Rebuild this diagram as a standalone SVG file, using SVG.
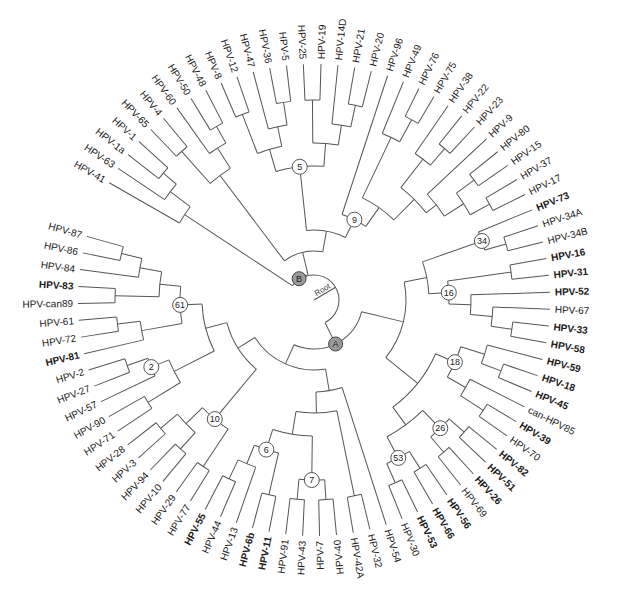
<svg xmlns="http://www.w3.org/2000/svg" width="627" height="593" viewBox="0 0 627 593">
<style>
.c line,.c circle{stroke:#555;stroke-width:1;fill:none}
.t{font-family:"Liberation Sans",Arial,sans-serif;font-size:10px;fill:#1a1a1a;dominant-baseline:central}
.e{text-anchor:end}
.b{font-weight:bold}
.nc circle{fill:#fff;stroke:#555;stroke-width:1}
.nc text{font-family:"Liberation Sans",Arial,sans-serif;font-size:9px;text-anchor:middle;dominant-baseline:central;fill:#222}
.ab circle{fill:#9a9a9a;stroke:#444}
.rt{font-family:"Liberation Sans",Arial,sans-serif;font-size:8px;fill:#444}
</style>
<rect width="627" height="593" fill="#fff"/>
<g id="connectors" class="c" transform="translate(314,300)">
<line x1="0" x2="25" transform="rotate(-30.55)"/>
<circle r="25" pathLength="360" stroke-dasharray="188.89 360" transform="rotate(-124.99)"/>
<line x1="25" x2="26" transform="rotate(235.01)"/>
<line x1="25" x2="49" transform="rotate(63.90)"/>
<circle r="26" pathLength="360" stroke-dasharray="43.21 360" transform="rotate(213.40)"/>
<line x1="26" x2="155" transform="rotate(213.40)"/>
<line x1="26" x2="49" transform="rotate(256.61)"/>
<circle r="49" pathLength="360" stroke-dasharray="47.32 360" transform="rotate(232.95)"/>
<line x1="49" x2="156" transform="rotate(232.95)"/>
<line x1="49" x2="70" transform="rotate(280.27)"/>
<circle r="155" pathLength="360" stroke-dasharray="7.21 360" transform="rotate(209.80)"/>
<line x1="155" x2="236" transform="rotate(209.80)"/>
<line x1="155" x2="180" transform="rotate(217.01)"/>
<circle r="180" pathLength="360" stroke-dasharray="6.17 360" transform="rotate(213.92)"/>
<line x1="180" x2="236" transform="rotate(213.92)"/>
<line x1="180" x2="197" transform="rotate(220.09)"/>
<circle r="197" pathLength="360" stroke-dasharray="4.12 360" transform="rotate(218.03)"/>
<line x1="197" x2="236" transform="rotate(218.03)"/>
<line x1="197" x2="236" transform="rotate(222.15)"/>
<circle r="156" pathLength="360" stroke-dasharray="9.26 360" transform="rotate(228.32)"/>
<line x1="156" x2="199" transform="rotate(228.32)"/>
<circle r="199" pathLength="360" stroke-dasharray="4.12 360" transform="rotate(226.26)"/>
<line x1="199" x2="236" transform="rotate(226.26)"/>
<line x1="199" x2="236" transform="rotate(230.38)"/>
<line x1="156" x2="180" transform="rotate(237.58)"/>
<circle r="180" pathLength="360" stroke-dasharray="6.18 360" transform="rotate(234.49)"/>
<line x1="180" x2="236" transform="rotate(234.49)"/>
<line x1="180" x2="199" transform="rotate(240.67)"/>
<circle r="199" pathLength="360" stroke-dasharray="4.11 360" transform="rotate(238.61)"/>
<line x1="199" x2="236" transform="rotate(238.61)"/>
<line x1="199" x2="236" transform="rotate(242.72)"/>
<circle r="70" pathLength="360" stroke-dasharray="32.78 360" transform="rotate(263.88)"/>
<line x1="70" x2="134" transform="rotate(263.88)"/>
<line x1="70" x2="90" transform="rotate(296.66)"/>
<circle r="134" pathLength="360" stroke-dasharray="20.71 360" transform="rotate(253.53)"/>
<line x1="134" x2="157" transform="rotate(253.53)"/>
<line x1="134" x2="157" transform="rotate(274.24)"/>
<circle r="157" pathLength="360" stroke-dasharray="9.26 360" transform="rotate(248.90)"/>
<line x1="157" x2="199" transform="rotate(248.90)"/>
<circle r="199" pathLength="360" stroke-dasharray="4.11 360" transform="rotate(246.84)"/>
<line x1="199" x2="236" transform="rotate(246.84)"/>
<line x1="199" x2="236" transform="rotate(250.95)"/>
<line x1="157" x2="177" transform="rotate(258.16)"/>
<circle r="177" pathLength="360" stroke-dasharray="6.17 360" transform="rotate(255.07)"/>
<line x1="177" x2="236" transform="rotate(255.07)"/>
<line x1="177" x2="200" transform="rotate(261.24)"/>
<circle r="200" pathLength="360" stroke-dasharray="4.12 360" transform="rotate(259.18)"/>
<line x1="200" x2="236" transform="rotate(259.18)"/>
<line x1="200" x2="236" transform="rotate(263.30)"/>
<circle r="157" pathLength="360" stroke-dasharray="9.35 360" transform="rotate(269.56)"/>
<line x1="157" x2="200" transform="rotate(269.56)"/>
<circle r="200" pathLength="360" stroke-dasharray="4.29 360" transform="rotate(267.41)"/>
<line x1="200" x2="236" transform="rotate(267.41)"/>
<line x1="200" x2="236" transform="rotate(271.70)"/>
<line x1="157" x2="177" transform="rotate(278.91)"/>
<circle r="177" pathLength="360" stroke-dasharray="6.17 360" transform="rotate(275.82)"/>
<line x1="177" x2="236" transform="rotate(275.82)"/>
<line x1="177" x2="199" transform="rotate(281.99)"/>
<circle r="199" pathLength="360" stroke-dasharray="4.12 360" transform="rotate(279.93)"/>
<line x1="199" x2="236" transform="rotate(279.93)"/>
<line x1="199" x2="236" transform="rotate(284.05)"/>
<circle r="90" pathLength="360" stroke-dasharray="16.99 360" transform="rotate(288.16)"/>
<line x1="90" x2="236" transform="rotate(288.16)"/>
<line x1="90" x2="113" transform="rotate(305.15)"/>
<circle r="113" pathLength="360" stroke-dasharray="19.55 360" transform="rotate(295.37)"/>
<line x1="113" x2="180" transform="rotate(295.37)"/>
<circle r="180" pathLength="360" stroke-dasharray="6.17 360" transform="rotate(292.28)"/>
<line x1="180" x2="236" transform="rotate(292.28)"/>
<line x1="180" x2="205" transform="rotate(298.45)"/>
<circle r="205" pathLength="360" stroke-dasharray="4.12 360" transform="rotate(296.39)"/>
<line x1="205" x2="236" transform="rotate(296.39)"/>
<line x1="205" x2="236" transform="rotate(300.51)"/>
<line x1="113" x2="142" transform="rotate(314.92)"/>
<circle r="142" pathLength="360" stroke-dasharray="14.41 360" transform="rotate(307.71)"/>
<line x1="142" x2="178" transform="rotate(307.71)"/>
<circle r="178" pathLength="360" stroke-dasharray="6.18 360" transform="rotate(304.62)"/>
<line x1="178" x2="236" transform="rotate(304.62)"/>
<line x1="178" x2="200" transform="rotate(310.80)"/>
<circle r="200" pathLength="360" stroke-dasharray="4.11 360" transform="rotate(308.74)"/>
<line x1="200" x2="236" transform="rotate(308.74)"/>
<line x1="200" x2="236" transform="rotate(312.85)"/>
<line x1="142" x2="155" transform="rotate(322.12)"/>
<circle r="155" pathLength="360" stroke-dasharray="10.29 360" transform="rotate(316.97)"/>
<line x1="155" x2="236" transform="rotate(316.97)"/>
<line x1="155" x2="178" transform="rotate(327.26)"/>
<circle r="178" pathLength="360" stroke-dasharray="8.23 360" transform="rotate(323.14)"/>
<line x1="178" x2="200" transform="rotate(323.14)"/>
<circle r="200" pathLength="360" stroke-dasharray="4.12 360" transform="rotate(321.08)"/>
<line x1="200" x2="236" transform="rotate(321.08)"/>
<line x1="200" x2="236" transform="rotate(325.20)"/>
<line x1="178" x2="200" transform="rotate(331.37)"/>
<circle r="200" pathLength="360" stroke-dasharray="4.12 360" transform="rotate(329.31)"/>
<line x1="200" x2="236" transform="rotate(329.31)"/>
<line x1="200" x2="236" transform="rotate(333.43)"/>
<circle r="49" pathLength="360" stroke-dasharray="100.31 360" transform="rotate(13.75)"/>
<line x1="49" x2="92" transform="rotate(13.75)"/>
<line x1="49" x2="70" transform="rotate(114.06)"/>
<circle r="92" pathLength="360" stroke-dasharray="50.02 360" transform="rotate(-11.26)"/>
<line x1="92" x2="115" transform="rotate(-11.26)"/>
<line x1="92" x2="133" transform="rotate(38.76)"/>
<circle r="115" pathLength="360" stroke-dasharray="16.21 360" transform="rotate(-19.37)"/>
<line x1="115" x2="178" transform="rotate(-19.37)"/>
<line x1="115" x2="135" transform="rotate(-3.16)"/>
<circle r="178" pathLength="360" stroke-dasharray="6.18 360" transform="rotate(-22.46)"/>
<line x1="178" x2="236" transform="rotate(-22.46)"/>
<line x1="178" x2="200" transform="rotate(-16.28)"/>
<circle r="200" pathLength="360" stroke-dasharray="4.11 360" transform="rotate(-18.34)"/>
<line x1="200" x2="236" transform="rotate(-18.34)"/>
<line x1="200" x2="236" transform="rotate(-14.23)"/>
<circle r="135" pathLength="360" stroke-dasharray="9.77 360" transform="rotate(-8.05)"/>
<line x1="135" x2="199" transform="rotate(-8.05)"/>
<circle r="199" pathLength="360" stroke-dasharray="4.11 360" transform="rotate(-10.11)"/>
<line x1="199" x2="236" transform="rotate(-10.11)"/>
<line x1="199" x2="236" transform="rotate(-6.00)"/>
<line x1="135" x2="157" transform="rotate(1.72)"/>
<circle r="157" pathLength="360" stroke-dasharray="7.20 360" transform="rotate(-1.88)"/>
<line x1="157" x2="236" transform="rotate(-1.88)"/>
<line x1="157" x2="179" transform="rotate(5.32)"/>
<circle r="179" pathLength="360" stroke-dasharray="6.18 360" transform="rotate(2.23)"/>
<line x1="179" x2="236" transform="rotate(2.23)"/>
<line x1="179" x2="200" transform="rotate(8.41)"/>
<circle r="200" pathLength="360" stroke-dasharray="4.11 360" transform="rotate(6.35)"/>
<line x1="200" x2="236" transform="rotate(6.35)"/>
<line x1="200" x2="236" transform="rotate(10.46)"/>
<circle r="133" pathLength="360" stroke-dasharray="29.84 360" transform="rotate(23.84)"/>
<line x1="133" x2="154" transform="rotate(23.84)"/>
<line x1="133" x2="155" transform="rotate(53.68)"/>
<circle r="154" pathLength="360" stroke-dasharray="12.34 360" transform="rotate(17.67)"/>
<line x1="154" x2="179" transform="rotate(17.67)"/>
<circle r="179" pathLength="360" stroke-dasharray="6.17 360" transform="rotate(14.58)"/>
<line x1="179" x2="236" transform="rotate(14.58)"/>
<line x1="179" x2="200" transform="rotate(20.75)"/>
<circle r="200" pathLength="360" stroke-dasharray="4.12 360" transform="rotate(18.69)"/>
<line x1="200" x2="236" transform="rotate(18.69)"/>
<line x1="200" x2="236" transform="rotate(22.81)"/>
<line x1="154" x2="175" transform="rotate(30.01)"/>
<circle r="175" pathLength="360" stroke-dasharray="6.18 360" transform="rotate(26.92)"/>
<line x1="175" x2="236" transform="rotate(26.92)"/>
<line x1="175" x2="202" transform="rotate(33.10)"/>
<circle r="202" pathLength="360" stroke-dasharray="4.11 360" transform="rotate(31.04)"/>
<line x1="202" x2="236" transform="rotate(31.04)"/>
<line x1="202" x2="236" transform="rotate(35.15)"/>
<circle r="155" pathLength="360" stroke-dasharray="16.46 360" transform="rotate(45.45)"/>
<line x1="155" x2="180" transform="rotate(45.45)"/>
<line x1="155" x2="179" transform="rotate(61.91)"/>
<circle r="180" pathLength="360" stroke-dasharray="8.23 360" transform="rotate(41.33)"/>
<line x1="180" x2="200" transform="rotate(41.33)"/>
<circle r="200" pathLength="360" stroke-dasharray="4.11 360" transform="rotate(39.27)"/>
<line x1="200" x2="236" transform="rotate(39.27)"/>
<line x1="200" x2="236" transform="rotate(43.38)"/>
<line x1="180" x2="200" transform="rotate(49.56)"/>
<circle r="200" pathLength="360" stroke-dasharray="4.11 360" transform="rotate(47.50)"/>
<line x1="200" x2="236" transform="rotate(47.50)"/>
<line x1="200" x2="236" transform="rotate(51.61)"/>
<circle r="179" pathLength="360" stroke-dasharray="8.23 360" transform="rotate(57.79)"/>
<line x1="179" x2="199" transform="rotate(57.79)"/>
<circle r="199" pathLength="360" stroke-dasharray="4.11 360" transform="rotate(55.73)"/>
<line x1="199" x2="236" transform="rotate(55.73)"/>
<line x1="199" x2="236" transform="rotate(59.84)"/>
<line x1="179" x2="200" transform="rotate(66.02)"/>
<circle r="200" pathLength="360" stroke-dasharray="4.11 360" transform="rotate(63.96)"/>
<line x1="200" x2="236" transform="rotate(63.96)"/>
<line x1="200" x2="236" transform="rotate(68.07)"/>
<circle r="70" pathLength="360" stroke-dasharray="67.13 360" transform="rotate(80.49)"/>
<line x1="70" x2="92" transform="rotate(80.49)"/>
<line x1="70" x2="90" transform="rotate(147.62)"/>
<circle r="92" pathLength="360" stroke-dasharray="16.59 360" transform="rotate(72.19)"/>
<line x1="92" x2="236" transform="rotate(72.19)"/>
<line x1="92" x2="113" transform="rotate(88.78)"/>
<circle r="113" pathLength="360" stroke-dasharray="20.84 360" transform="rotate(78.36)"/>
<line x1="113" x2="200" transform="rotate(78.36)"/>
<circle r="200" pathLength="360" stroke-dasharray="4.12 360" transform="rotate(76.30)"/>
<line x1="200" x2="236" transform="rotate(76.30)"/>
<line x1="200" x2="236" transform="rotate(80.42)"/>
<line x1="113" x2="136" transform="rotate(99.20)"/>
<circle r="136" pathLength="360" stroke-dasharray="16.97 360" transform="rotate(90.71)"/>
<line x1="136" x2="180" transform="rotate(90.71)"/>
<circle r="180" pathLength="360" stroke-dasharray="8.23 360" transform="rotate(86.59)"/>
<line x1="180" x2="200" transform="rotate(86.59)"/>
<circle r="200" pathLength="360" stroke-dasharray="4.12 360" transform="rotate(84.53)"/>
<line x1="200" x2="236" transform="rotate(84.53)"/>
<line x1="200" x2="236" transform="rotate(88.65)"/>
<line x1="180" x2="200" transform="rotate(94.82)"/>
<circle r="200" pathLength="360" stroke-dasharray="4.12 360" transform="rotate(92.76)"/>
<line x1="200" x2="236" transform="rotate(92.76)"/>
<line x1="200" x2="236" transform="rotate(96.88)"/>
<line x1="136" x2="157" transform="rotate(107.68)"/>
<circle r="157" pathLength="360" stroke-dasharray="9.26 360" transform="rotate(103.05)"/>
<line x1="157" x2="200" transform="rotate(103.05)"/>
<circle r="200" pathLength="360" stroke-dasharray="4.12 360" transform="rotate(100.99)"/>
<line x1="200" x2="236" transform="rotate(100.99)"/>
<line x1="200" x2="236" transform="rotate(105.11)"/>
<line x1="157" x2="177" transform="rotate(112.31)"/>
<circle r="177" pathLength="360" stroke-dasharray="6.18 360" transform="rotate(109.22)"/>
<line x1="177" x2="236" transform="rotate(109.22)"/>
<line x1="177" x2="198" transform="rotate(115.40)"/>
<circle r="198" pathLength="360" stroke-dasharray="4.11 360" transform="rotate(113.34)"/>
<line x1="198" x2="236" transform="rotate(113.34)"/>
<line x1="198" x2="236" transform="rotate(117.45)"/>
<circle r="90" pathLength="360" stroke-dasharray="35.62 360" transform="rotate(129.81)"/>
<line x1="90" x2="155" transform="rotate(129.81)"/>
<line x1="90" x2="112" transform="rotate(165.43)"/>
<circle r="155" pathLength="360" stroke-dasharray="12.35 360" transform="rotate(123.63)"/>
<line x1="155" x2="200" transform="rotate(123.63)"/>
<circle r="200" pathLength="360" stroke-dasharray="4.11 360" transform="rotate(121.57)"/>
<line x1="200" x2="236" transform="rotate(121.57)"/>
<line x1="200" x2="236" transform="rotate(125.68)"/>
<line x1="155" x2="178" transform="rotate(135.98)"/>
<circle r="178" pathLength="360" stroke-dasharray="8.23 360" transform="rotate(131.86)"/>
<line x1="178" x2="200" transform="rotate(131.86)"/>
<circle r="200" pathLength="360" stroke-dasharray="4.11 360" transform="rotate(129.80)"/>
<line x1="200" x2="236" transform="rotate(129.80)"/>
<line x1="200" x2="236" transform="rotate(133.91)"/>
<line x1="178" x2="200" transform="rotate(140.09)"/>
<circle r="200" pathLength="360" stroke-dasharray="4.11 360" transform="rotate(138.03)"/>
<line x1="200" x2="236" transform="rotate(138.03)"/>
<line x1="200" x2="236" transform="rotate(142.14)"/>
<circle r="112" pathLength="360" stroke-dasharray="24.95 360" transform="rotate(152.95)"/>
<line x1="112" x2="157" transform="rotate(152.95)"/>
<line x1="112" x2="134" transform="rotate(177.90)"/>
<circle r="157" pathLength="360" stroke-dasharray="9.26 360" transform="rotate(148.32)"/>
<line x1="157" x2="195" transform="rotate(148.32)"/>
<circle r="195" pathLength="360" stroke-dasharray="4.11 360" transform="rotate(146.26)"/>
<line x1="195" x2="236" transform="rotate(146.26)"/>
<line x1="195" x2="236" transform="rotate(150.37)"/>
<line x1="157" x2="176" transform="rotate(157.58)"/>
<circle r="176" pathLength="360" stroke-dasharray="6.17 360" transform="rotate(154.49)"/>
<line x1="176" x2="236" transform="rotate(154.49)"/>
<line x1="176" x2="198" transform="rotate(160.66)"/>
<circle r="198" pathLength="360" stroke-dasharray="4.12 360" transform="rotate(158.60)"/>
<line x1="198" x2="236" transform="rotate(158.60)"/>
<line x1="198" x2="236" transform="rotate(162.72)"/>
<circle r="134" pathLength="360" stroke-dasharray="15.95 360" transform="rotate(169.92)"/>
<line x1="134" x2="175" transform="rotate(169.92)"/>
<circle r="175" pathLength="360" stroke-dasharray="6.18 360" transform="rotate(166.83)"/>
<line x1="175" x2="236" transform="rotate(166.83)"/>
<line x1="175" x2="198" transform="rotate(173.01)"/>
<circle r="198" pathLength="360" stroke-dasharray="4.11 360" transform="rotate(170.95)"/>
<line x1="198" x2="236" transform="rotate(170.95)"/>
<line x1="198" x2="236" transform="rotate(175.06)"/>
<line x1="134" x2="155" transform="rotate(185.87)"/>
<circle r="155" pathLength="360" stroke-dasharray="9.26 360" transform="rotate(181.24)"/>
<line x1="155" x2="199" transform="rotate(181.24)"/>
<circle r="199" pathLength="360" stroke-dasharray="4.11 360" transform="rotate(179.18)"/>
<line x1="199" x2="236" transform="rotate(179.18)"/>
<line x1="199" x2="236" transform="rotate(183.29)"/>
<line x1="155" x2="177" transform="rotate(190.50)"/>
<circle r="177" pathLength="360" stroke-dasharray="6.17 360" transform="rotate(187.41)"/>
<line x1="177" x2="236" transform="rotate(187.41)"/>
<line x1="177" x2="198" transform="rotate(193.58)"/>
<circle r="198" pathLength="360" stroke-dasharray="4.12 360" transform="rotate(191.52)"/>
<line x1="198" x2="236" transform="rotate(191.52)"/>
<line x1="198" x2="236" transform="rotate(195.64)"/>
</g>
<g id="leaves" transform="translate(314,300)">
<g id="leaf-HPV-19"><text class="t" transform="rotate(-88.30) translate(241,0)">HPV-19</text></g>
<g id="leaf-HPV-14D"><text class="t" transform="rotate(-84.18) translate(241,0)">HPV-14D</text></g>
<g id="leaf-HPV-21"><text class="t" transform="rotate(-80.07) translate(241,0)">HPV-21</text></g>
<g id="leaf-HPV-20"><text class="t" transform="rotate(-75.95) translate(241,0)">HPV-20</text></g>
<g id="leaf-HPV-96"><text class="t" transform="rotate(-71.84) translate(241,0)">HPV-96</text></g>
<g id="leaf-HPV-49"><text class="t" transform="rotate(-67.72) translate(241,0)">HPV-49</text></g>
<g id="leaf-HPV-76"><text class="t" transform="rotate(-63.61) translate(241,0)">HPV-76</text></g>
<g id="leaf-HPV-75"><text class="t" transform="rotate(-59.49) translate(241,0)">HPV-75</text></g>
<g id="leaf-HPV-38"><text class="t" transform="rotate(-55.38) translate(241,0)">HPV-38</text></g>
<g id="leaf-HPV-22"><text class="t" transform="rotate(-51.26) translate(241,0)">HPV-22</text></g>
<g id="leaf-HPV-23"><text class="t" transform="rotate(-47.15) translate(241,0)">HPV-23</text></g>
<g id="leaf-HPV-9"><text class="t" transform="rotate(-43.03) translate(241,0)">HPV-9</text></g>
<g id="leaf-HPV-80"><text class="t" transform="rotate(-38.92) translate(241,0)">HPV-80</text></g>
<g id="leaf-HPV-15"><text class="t" transform="rotate(-34.80) translate(241,0)">HPV-15</text></g>
<g id="leaf-HPV-37"><text class="t" transform="rotate(-30.69) translate(241,0)">HPV-37</text></g>
<g id="leaf-HPV-17"><text class="t" transform="rotate(-26.57) translate(241,0)">HPV-17</text></g>
<g id="leaf-HPV-73"><text class="t b" transform="rotate(-22.46) translate(241,0)">HPV-73</text></g>
<g id="leaf-HPV-34A"><text class="t" transform="rotate(-18.34) translate(241,0)">HPV-34A</text></g>
<g id="leaf-HPV-34B"><text class="t" transform="rotate(-14.23) translate(241,0)">HPV-34B</text></g>
<g id="leaf-HPV-16"><text class="t b" transform="rotate(-10.11) translate(241,0)">HPV-16</text></g>
<g id="leaf-HPV-31"><text class="t b" transform="rotate(-6.00) translate(241,0)">HPV-31</text></g>
<g id="leaf-HPV-52"><text class="t b" transform="rotate(-1.88) translate(241,0)">HPV-52</text></g>
<g id="leaf-HPV-67"><text class="t" transform="rotate(2.23) translate(241,0)">HPV-67</text></g>
<g id="leaf-HPV-33"><text class="t b" transform="rotate(6.35) translate(241,0)">HPV-33</text></g>
<g id="leaf-HPV-58"><text class="t b" transform="rotate(10.46) translate(241,0)">HPV-58</text></g>
<g id="leaf-HPV-59"><text class="t b" transform="rotate(14.58) translate(241,0)">HPV-59</text></g>
<g id="leaf-HPV-18"><text class="t b" transform="rotate(18.69) translate(241,0)">HPV-18</text></g>
<g id="leaf-HPV-45"><text class="t b" transform="rotate(22.81) translate(241,0)">HPV-45</text></g>
<g id="leaf-can-HPV85"><text class="t" transform="rotate(26.92) translate(241,0)">can-HPV85</text></g>
<g id="leaf-HPV-39"><text class="t b" transform="rotate(31.04) translate(241,0)">HPV-39</text></g>
<g id="leaf-HPV-70"><text class="t" transform="rotate(35.15) translate(241,0)">HPV-70</text></g>
<g id="leaf-HPV-82"><text class="t b" transform="rotate(39.27) translate(241,0)">HPV-82</text></g>
<g id="leaf-HPV-51"><text class="t b" transform="rotate(43.38) translate(241,0)">HPV-51</text></g>
<g id="leaf-HPV-26"><text class="t b" transform="rotate(47.50) translate(241,0)">HPV-26</text></g>
<g id="leaf-HPV-69"><text class="t" transform="rotate(51.61) translate(241,0)">HPV-69</text></g>
<g id="leaf-HPV-56"><text class="t b" transform="rotate(55.73) translate(241,0)">HPV-56</text></g>
<g id="leaf-HPV-66"><text class="t b" transform="rotate(59.84) translate(241,0)">HPV-66</text></g>
<g id="leaf-HPV-53"><text class="t b" transform="rotate(63.96) translate(241,0)">HPV-53</text></g>
<g id="leaf-HPV-30"><text class="t" transform="rotate(68.07) translate(241,0)">HPV-30</text></g>
<g id="leaf-HPV-54"><text class="t" transform="rotate(72.19) translate(241,0)">HPV-54</text></g>
<g id="leaf-HPV-32"><text class="t" transform="rotate(76.30) translate(241,0)">HPV-32</text></g>
<g id="leaf-HPV-42A"><text class="t" transform="rotate(80.42) translate(241,0)">HPV-42A</text></g>
<g id="leaf-HPV-40"><text class="t e" transform="rotate(-95.47) translate(-241,0)">HPV-40</text></g>
<g id="leaf-HPV-7"><text class="t e" transform="rotate(-91.35) translate(-241,0)">HPV-7</text></g>
<g id="leaf-HPV-43"><text class="t e" transform="rotate(-87.24) translate(-241,0)">HPV-43</text></g>
<g id="leaf-HPV-91"><text class="t e" transform="rotate(-83.12) translate(-241,0)">HPV-91</text></g>
<g id="leaf-HPV-11"><text class="t e b" transform="rotate(-79.01) translate(-241,0)">HPV-11</text></g>
<g id="leaf-HPV-6b"><text class="t e b" transform="rotate(-74.89) translate(-241,0)">HPV-6b</text></g>
<g id="leaf-HPV-13"><text class="t e" transform="rotate(-70.78) translate(-241,0)">HPV-13</text></g>
<g id="leaf-HPV-44"><text class="t e" transform="rotate(-66.66) translate(-241,0)">HPV-44</text></g>
<g id="leaf-HPV-55"><text class="t e b" transform="rotate(-62.55) translate(-241,0)">HPV-55</text></g>
<g id="leaf-HPV-77"><text class="t e" transform="rotate(-58.43) translate(-241,0)">HPV-77</text></g>
<g id="leaf-HPV-29"><text class="t e" transform="rotate(-54.32) translate(-241,0)">HPV-29</text></g>
<g id="leaf-HPV-10"><text class="t e" transform="rotate(-50.20) translate(-241,0)">HPV-10</text></g>
<g id="leaf-HPV-94"><text class="t e" transform="rotate(-46.09) translate(-241,0)">HPV-94</text></g>
<g id="leaf-HPV-3"><text class="t e" transform="rotate(-41.97) translate(-241,0)">HPV-3</text></g>
<g id="leaf-HPV-28"><text class="t e" transform="rotate(-37.86) translate(-241,0)">HPV-28</text></g>
<g id="leaf-HPV-71"><text class="t e" transform="rotate(-33.74) translate(-241,0)">HPV-71</text></g>
<g id="leaf-HPV-90"><text class="t e" transform="rotate(-29.63) translate(-241,0)">HPV-90</text></g>
<g id="leaf-HPV-57"><text class="t e" transform="rotate(-25.51) translate(-241,0)">HPV-57</text></g>
<g id="leaf-HPV-27"><text class="t e" transform="rotate(-21.40) translate(-241,0)">HPV-27</text></g>
<g id="leaf-HPV-2"><text class="t e" transform="rotate(-17.28) translate(-241,0)">HPV-2</text></g>
<g id="leaf-HPV-81"><text class="t e b" transform="rotate(-13.17) translate(-241,0)">HPV-81</text></g>
<g id="leaf-HPV-72"><text class="t e" transform="rotate(-9.05) translate(-241,0)">HPV-72</text></g>
<g id="leaf-HPV-61"><text class="t e" transform="rotate(-4.94) translate(-241,0)">HPV-61</text></g>
<g id="leaf-HPV-can89"><text class="t e" transform="rotate(-0.82) translate(-241,0)">HPV-can89</text></g>
<g id="leaf-HPV-83"><text class="t e b" transform="rotate(3.29) translate(-241,0)">HPV-83</text></g>
<g id="leaf-HPV-84"><text class="t e" transform="rotate(7.41) translate(-241,0)">HPV-84</text></g>
<g id="leaf-HPV-86"><text class="t e" transform="rotate(11.52) translate(-241,0)">HPV-86</text></g>
<g id="leaf-HPV-87"><text class="t e" transform="rotate(15.64) translate(-241,0)">HPV-87</text></g>
<g id="leaf-HPV-41"><text class="t e" transform="rotate(29.80) translate(-241,0)">HPV-41</text></g>
<g id="leaf-HPV-63"><text class="t e" transform="rotate(33.92) translate(-241,0)">HPV-63</text></g>
<g id="leaf-HPV-1a"><text class="t e" transform="rotate(38.03) translate(-241,0)">HPV-1a</text></g>
<g id="leaf-HPV-1"><text class="t e" transform="rotate(42.15) translate(-241,0)">HPV-1</text></g>
<g id="leaf-HPV-65"><text class="t e" transform="rotate(46.26) translate(-241,0)">HPV-65</text></g>
<g id="leaf-HPV-4"><text class="t e" transform="rotate(50.38) translate(-241,0)">HPV-4</text></g>
<g id="leaf-HPV-60"><text class="t e" transform="rotate(54.49) translate(-241,0)">HPV-60</text></g>
<g id="leaf-HPV-50"><text class="t e" transform="rotate(58.61) translate(-241,0)">HPV-50</text></g>
<g id="leaf-HPV-48"><text class="t e" transform="rotate(62.72) translate(-241,0)">HPV-48</text></g>
<g id="leaf-HPV-8"><text class="t e" transform="rotate(66.84) translate(-241,0)">HPV-8</text></g>
<g id="leaf-HPV-12"><text class="t e" transform="rotate(70.95) translate(-241,0)">HPV-12</text></g>
<g id="leaf-HPV-47"><text class="t e" transform="rotate(75.07) translate(-241,0)">HPV-47</text></g>
<g id="leaf-HPV-36"><text class="t e" transform="rotate(79.18) translate(-241,0)">HPV-36</text></g>
<g id="leaf-HPV-5"><text class="t e" transform="rotate(83.30) translate(-241,0)">HPV-5</text></g>
<g id="leaf-HPV-25"><text class="t e" transform="rotate(87.41) translate(-241,0)">HPV-25</text></g>
</g>
<g id="root-label"><text class="rt" transform="translate(314,300) rotate(-30.55) translate(4,-2)">Root</text></g>
<g id="node-5" class="nc"><circle cx="299.7" cy="166.8" r="7.5"/><text x="299.7" y="166.8">5</text></g>
<g id="node-9" class="nc"><circle cx="354.4" cy="219.6" r="7.5"/><text x="354.4" y="219.6">9</text></g>
<g id="node-34" class="nc"><circle cx="481.9" cy="241" r="7.5"/><text x="481.9" y="241">34</text></g>
<g id="node-16" class="nc"><circle cx="448.8" cy="292.6" r="7.5"/><text x="448.8" y="292.6">16</text></g>
<g id="node-18" class="nc"><circle cx="454.9" cy="362.2" r="7.5"/><text x="454.9" y="362.2">18</text></g>
<g id="node-26" class="nc"><circle cx="440.3" cy="428.2" r="7.5"/><text x="440.3" y="428.2">26</text></g>
<g id="node-53" class="nc"><circle cx="398.3" cy="457.9" r="7.5"/><text x="398.3" y="457.9">53</text></g>
<g id="node-7" class="nc"><circle cx="311.8" cy="480" r="7.5"/><text x="311.8" y="480">7</text></g>
<g id="node-6" class="nc"><circle cx="266.3" cy="449.6" r="7.5"/><text x="266.3" y="449.6">6</text></g>
<g id="node-10" class="nc"><circle cx="214.8" cy="419.1" r="7.5"/><text x="214.8" y="419.1">10</text></g>
<g id="node-2" class="nc"><circle cx="151.3" cy="367.1" r="7.5"/><text x="151.3" y="367.1">2</text></g>
<g id="node-61" class="nc"><circle cx="180.1" cy="304.9" r="7.5"/><text x="180.1" y="304.9">61</text></g>
<g id="node-A" class="nc ab"><circle cx="335.6" cy="344" r="7"/><text x="335.6" y="344">A</text></g>
<g id="node-B" class="nc ab"><circle cx="299.1" cy="278.7" r="7"/><text x="299.1" y="278.7">B</text></g>
</svg>
